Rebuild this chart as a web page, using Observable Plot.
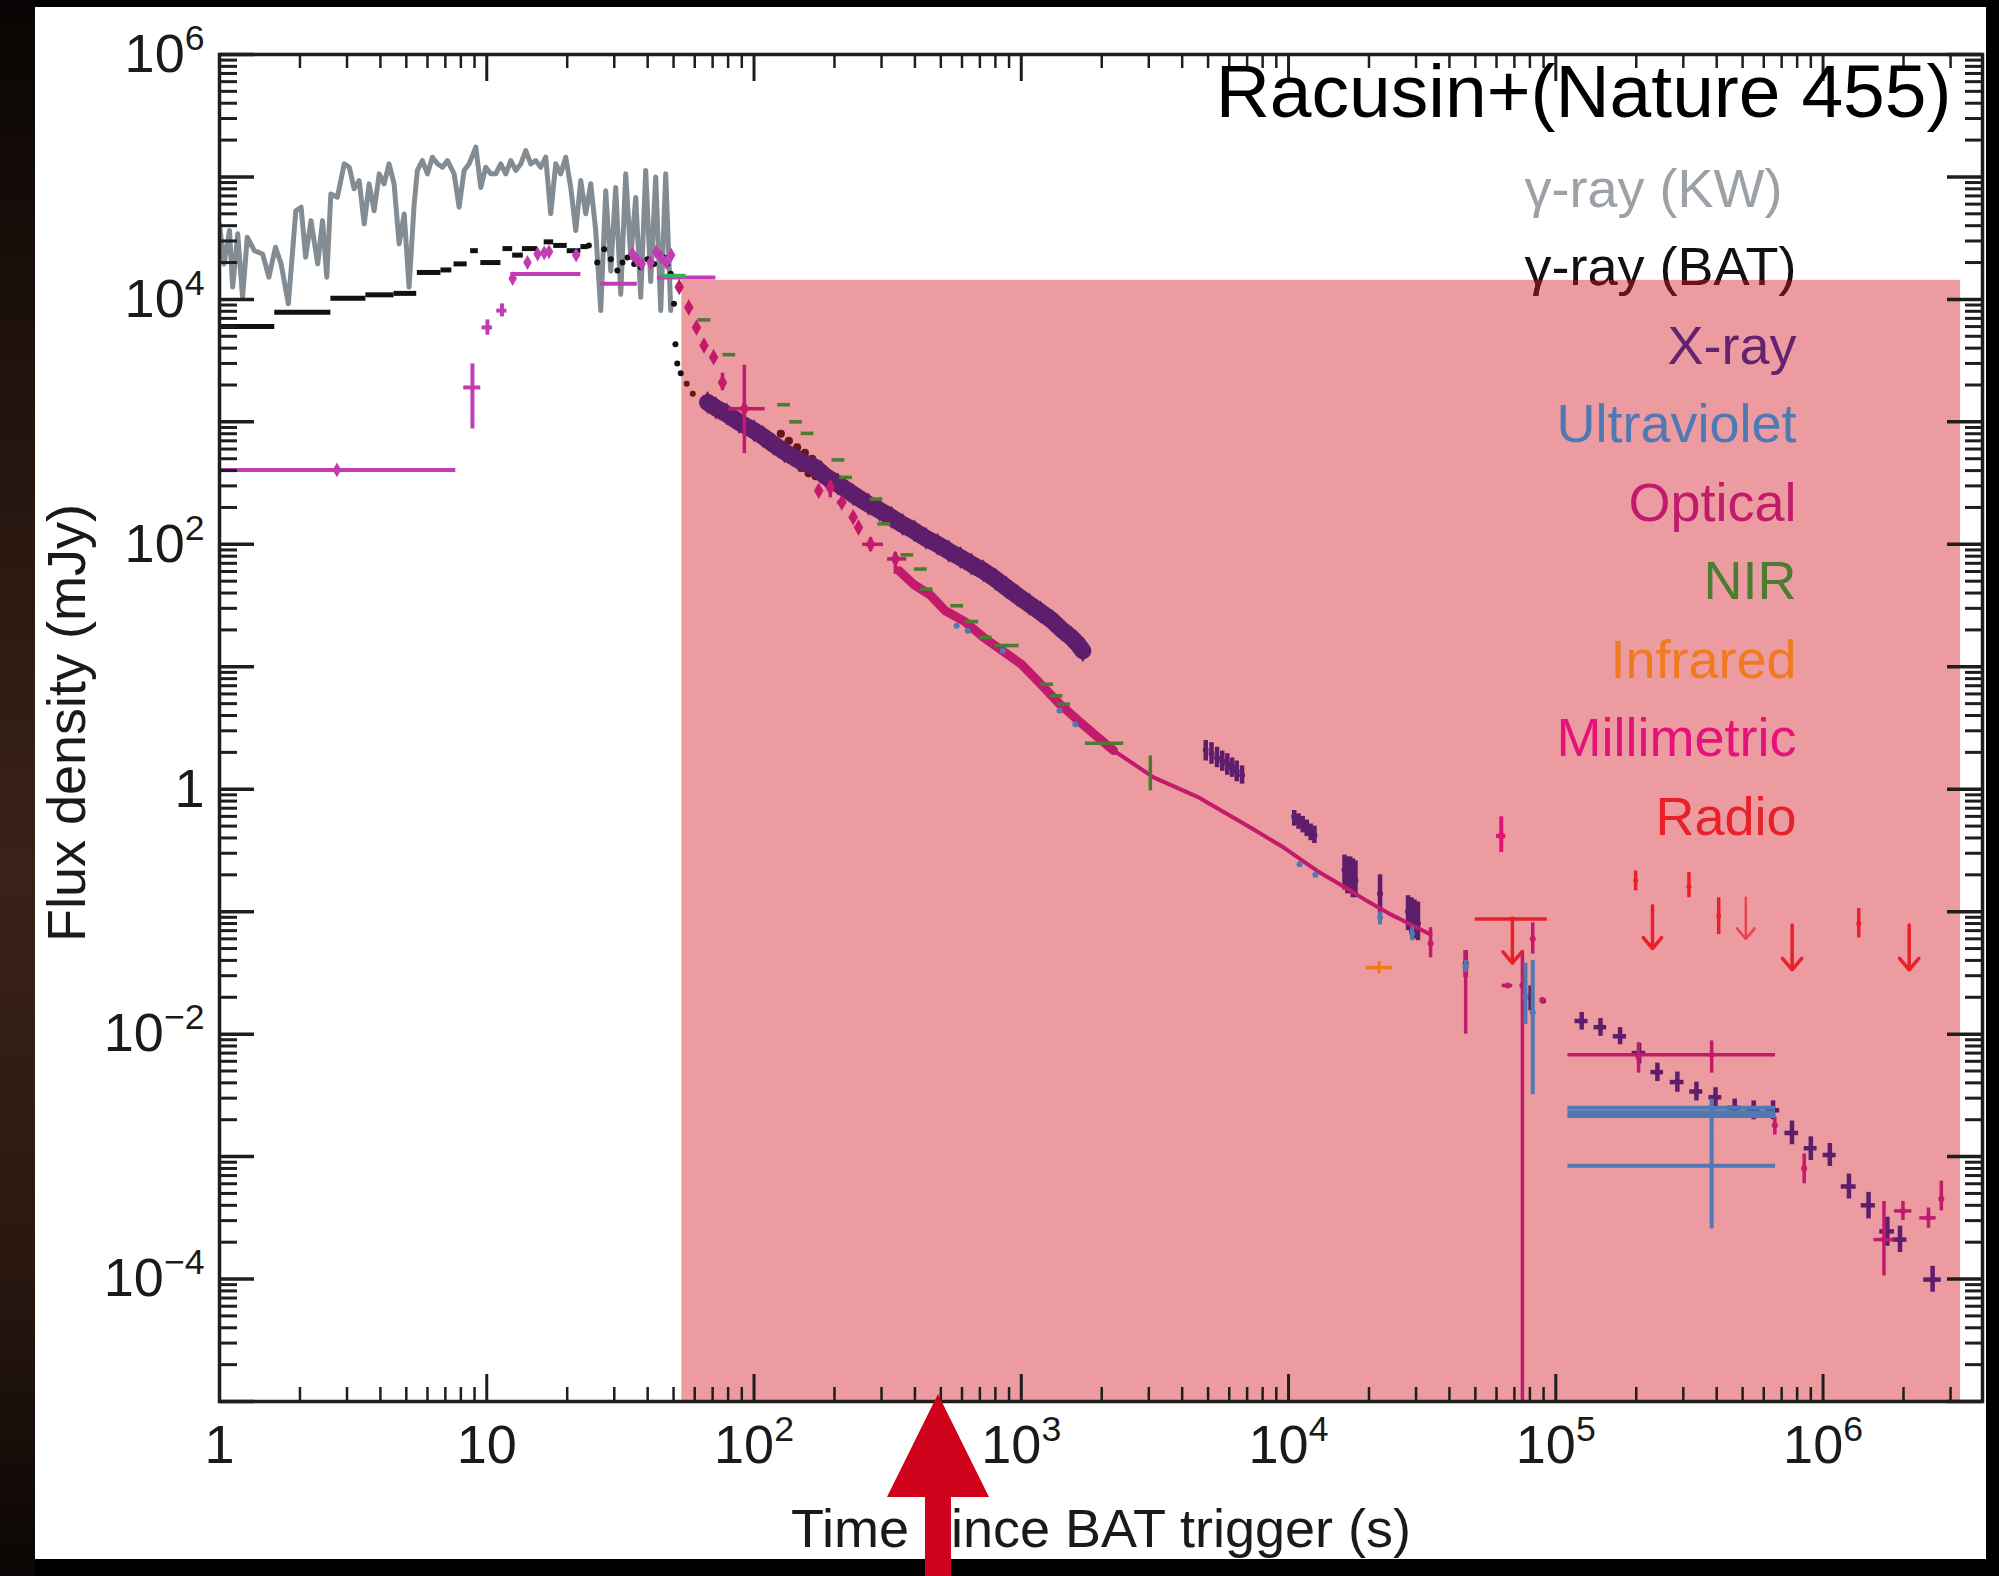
<!DOCTYPE html>
<html><head><meta charset="utf-8">
<script src="https://cdn.jsdelivr.net/npm/d3@7"></script>
<script src="https://cdn.jsdelivr.net/npm/@observablehq/plot@0.6"></script>
<style>
html,body{margin:0;padding:0;background:#000;overflow:hidden;}
#stage{position:relative;width:1999px;height:1576px;background:#000;overflow:hidden;}
#edge{position:absolute;left:0;top:0;width:35px;height:1576px;background:linear-gradient(180deg,#080504 0%,#22130d 25%,#3a2219 55%,#2a1810 80%,#0a0605 100%);}
#panel{position:absolute;left:35px;top:7px;width:1951px;height:1552px;background:#fff;}
#chart{position:absolute;left:0;top:0;}
#chart svg{display:block;}
#overlay{position:absolute;left:0;top:0;pointer-events:none;}
</style></head>
<body><div id="stage"><div id="edge"></div><div id="panel"></div><div id="chart"></div></div>
<script>
// ---------------- axes / labels ----------------
const xDomain = [1, 3.95e6];
const yDomain = [1e-5, 1e6];
const xMajorTicks = [1, 10, 100, 1e3, 1e4, 1e5, 1e6];
const xTickLabels = ["1", "10", "10^2", "10^3", "10^4", "10^5", "10^6"];
const yMajorTicks = [1e-5, 1e-4, 1e-3, 1e-2, 1e-1, 1, 10, 100, 1e3, 1e4, 1e5, 1e6];
const yLabelTicks = [1e6, 1e4, 1e2, 1, 1e-2, 1e-4];
const yTickLabels = ["10^6", "10^4", "10^2", "1", "10^\u22122", "10^\u22124"];
const xTitle = "Time since BAT trigger (s)";
const yTitle = "Flux density (mJy)";
const chartTitle = "Racusin+(Nature 455)";
const legendLabels = ["\u03b3-ray (KW)", "\u03b3-ray (BAT)", "X-ray", "Ultraviolet", "Optical", "NIR", "Infrared", "Millimetric", "Radio"];
const legendColors = ["#9BA1A7", "#111111", "#64236F", "#4E79B3", "#C21A6C", "#4C7B31", "#F07B1F", "#E5127A", "#E8202A"];

// shaded (highlighted) time range and the annotation arrow time
const shadeRegion = {t1: 53.7, t2: 3.27e6, f1: 1e-5, f2: 1.43e4};
const arrowTime = 490;

// ---------------- data (t in s, flux in mJy) ----------------
const kwCurve = [[1.00,4.1e4],[1.04,1.95e4],[1.09,3.65e4],[1.12,1.26e4],[1.17,3.43e4],[1.22,1.04e4],[1.27,3.22e4],[1.35,2.5e4],[1.45,2.35e4],[1.53,1.52e4],[1.62,2.67e4],[1.70,1.95e4],[1.81,9.2e3],[1.93,5.3e4],[2.02,5.66e4],[2.10,2.21e4],[2.20,4.4e4],[2.33,1.95e4],[2.43,4.4e4],[2.52,1.52e4],[2.61,7.27e4],[2.76,6.83e4],[2.93,1.28e5],[3.06,1.2e5],[3.19,8.0e4],[3.33,9.35e4],[3.48,4.14e4],[3.63,8.78e4],[3.79,5.3e4],[3.96,1.06e5],[4.13,8.78e4],[4.31,1.28e5],[4.50,8.78e4],[4.70,2.84e4],[4.91,4.99e4],[5.12,1.26e4],[5.35,6.0e4],[5.50,1.13e5],[5.74,1.36e5],[6.00,1.06e5],[6.26,1.45e5],[6.54,1.28e5],[6.83,1.2e5],[7.13,1.36e5],[7.55,1.06e5],[7.88,5.66e4],[8.23,1.13e5],[8.59,1.28e5],[9.10,1.75e5],[9.50,8.2e4],[9.91,1.2e5],[10.35,1.06e5],[10.81,1.06e5],[11.28,1.28e5],[11.78,1.06e5],[12.30,1.36e5],[12.84,1.13e5],[13.41,1.28e5],[13.99,1.64e5],[14.61,1.28e5],[15.25,1.36e5],[15.92,1.2e5],[16.62,1.45e5],[17.35,5.0e4],[18.12,1.28e5],[18.91,1.06e5],[19.75,1.45e5],[20.62,8.2e4],[21.53,3.65e4],[22.47,9.35e4],[23.46,5.0e4],[24.50,8.8e4],[25.57,3.65e4],[26.70,8.1e3],[27.87,7.7e4],[29.10,1.7e4],[30.38,8.2e4],[31.72,1.1e4],[33.11,1.06e5],[34.57,2.2e4],[36.09,6.8e4],[37.68,1.04e4],[39.33,1.13e5],[41.06,1.4e4],[42.87,1.0e5],[44.76,8.1e3],[46.73,1.06e5],[48.09,1.95e4],[48.80,8.1e3]];

const batSteps = [[0.9,1.61,6.0e3],[1.61,2.61,7.85e3],[2.61,3.53,1.02e4],[3.53,4.5,1.09e4],[4.5,5.47,1.12e4],[5.5,6.74,1.66e4],[6.74,7.4,1.74e4],[7.54,8.45,1.95e4],[8.7,9.3,2.5e4],[9.5,11.3,2.0e4],[11.5,12.5,2.6e4],[12.5,13.7,2.3e4],[13.6,15.5,2.6e4],[16.4,17.8,2.95e4],[17.8,20.0,2.76e4],[20.0,22.5,2.5e4],[22.5,24.0,2.7e4]];
const batDots = [[24.1,2.75e4],[25.9,2.0e4],[27.5,2.57e4],[29.1,2.13e4],[30.8,1.72e4],[32.2,2.0e4],[33.6,2.2e4],[35.6,1.95e4],[37.7,1.83e4],[39.9,2.13e4],[42.3,1.95e4],[44.1,2.35e4],[46.1,2.2e4],[47.4,1.95e4],[48.8,1.62e4],[50.2,9.2e3],[50.8,4.3e3],[51.6,3.0e3],[53.2,2.5e3],[56.0,2.05e3],[59.0,1.7e3],[126,800],[130,560],[135,700],[140,480],[145,620],[150,420],[155,560],[160,380],[165,500],[170,360],[175,450],[181,340]];

const optEarlyBars = [
  {t: 2.75, f: 405, tlo: 0.8, thi: 7.66},
  {t: 8.84, f: 1910, tlo: 8.2, thi: 9.5, flo: 875, fhi: 2970},
  {t: 10.06, f: 5900, tlo: 9.6, thi: 10.5, flo: 5100, fhi: 6800},
  {t: 11.4, f: 8100, tlo: 10.9, thi: 11.9, flo: 7200, fhi: 9200},
  {t: 15, f: 1.61e4, tlo: 12.3, thi: 22.5},
  {t: 31, f: 1.34e4, tlo: 26.7, thi: 36.6},
  {t: 56, f: 1.51e4, tlo: 43.5, thi: 72}
];
const optEarlyDots = [[2.75,405],[12.5,1.48e4],[14.2,2.0e4],[15.5,2.35e4],[16.4,2.4e4],[17.1,2.45e4],[21.6,2.3e4],[35.1,2.35e4],[36.5,2.1e4],[38,1.95e4],[41,2.0e4],[43,2.45e4],[45,2.2e4],[47,2.0e4],[49,2.3e4]];

const optSteep = [
  {t: 52.5, f: 1.26e4}, {t: 57, f: 8600}, {t: 60.9, f: 5900}, {t: 65, f: 4200}, {t: 70.6, f: 3370},
  {t: 76.2, f: 2100, flo: 1800, fhi: 2500},
  {t: 92, f: 1280, tlo: 80.6, thi: 110, flo: 550, fhi: 2900},
  {t: 174.6, f: 274}, {t: 193, f: 290, flo: 240, fhi: 331},
  {t: 213, f: 220, tlo: 205, thi: 222}, {t: 235, f: 166, tlo: 228, thi: 243}, {t: 246, f: 137},
  {t: 273, f: 100, tlo: 255, thi: 305, flo: 88, fhi: 113},
  {t: 338, f: 76, tlo: 316, thi: 373, flo: 57, fhi: 86}
];
const optTrackDense = [[349,60.8],[398,46.6],[457,38.5],[519,28.7],[613,23.5],[722,17.4],[851,13.5],[1000,10.5],[1190,7.1],[1393,4.95],[1640,3.62],[1940,2.64],[2215,2.07]];
const optTrackLate = [[2215,2.07],[3127,1.25],[4630,0.853],[7200,0.486],[9600,0.334],[12800,0.215],[17100,0.148],[19700,0.122],[24100,0.095],[27000,0.084],[34000,0.065]];
const optPoints = [
  {t: 3.4e4, f: 0.055, flo: 0.042, fhi: 0.074},
  {t: 4.6e4, f: 0.035, flo: 0.01, fhi: 0.048},
  {t: 6.6e4, f: 0.025, tlo: 6.3e4, thi: 6.9e4},
  {t: 7.5e4, f: 0.025, flo: 1e-6, fhi: 0.048},
  {t: 8.2e4, f: 0.06, flo: 0.045, fhi: 0.081},
  {t: 8.9e4, f: 0.019},
  {t: 3.83e5, f: 6.8e-3, tlo: 1.11e5, thi: 6.64e5, flo: 4.8e-3, fhi: 8.8e-3},
  {t: 2.04e5, f: 6.5e-3, flo: 4.8e-3, fhi: 8.5e-3},
  {t: 6.6e5, f: 1.8e-3, flo: 1.5e-3, fhi: 2.1e-3},
  {t: 8.5e5, f: 8.0e-4, flo: 6.0e-4, fhi: 1.05e-3},
  {t: 1.69e6, f: 2.1e-4, tlo: 1.55e6, thi: 1.85e6, flo: 1.06e-4, fhi: 4.3e-4},
  {t: 1.99e6, f: 3.6e-4, tlo: 1.85e6, thi: 2.15e6, flo: 3.0e-4, fhi: 4.3e-4},
  {t: 2.48e6, f: 3.16e-4, tlo: 2.3e6, thi: 2.65e6, flo: 2.6e-4, fhi: 3.8e-4},
  {t: 2.77e6, f: 4.5e-4, flo: 3.6e-4, fhi: 6.3e-4}
];

const uvPoints = [
  {t: 573, f: 21.6}, {t: 631, f: 19.7}, {t: 852, f: 13.5}, {t: 1390, f: 4.37}, {t: 1593, f: 3.4},
  {t: 1.1e4, f: 0.244}, {t: 1.26e4, f: 0.2},
  {t: 2.2e4, f: 0.09, flo: 0.078, fhi: 0.1}, {t: 2.9e4, f: 0.066, flo: 0.058, fhi: 0.075},
  {t: 4.6e4, f: 0.036, flo: 0.032, fhi: 0.04},
  {t: 7.7e4, f: 0.02, flo: 0.012, fhi: 0.038},
  {t: 8.2e4, f: 0.015, flo: 3.2e-3, fhi: 0.04},
  {t: 3.83e5, f: 2.5e-3, tlo: 1.11e5, thi: 6.64e5, flo: 1.5e-3, fhi: 2.95e-3},
  {t: 3.83e5, f: 2.3e-3, tlo: 1.11e5, thi: 6.64e5},
  {t: 3.83e5, f: 2.15e-3, tlo: 1.11e5, thi: 6.64e5},
  {t: 3.83e5, f: 8.4e-4, tlo: 1.11e5, thi: 6.64e5, flo: 2.57e-4, fhi: 1.5e-3}
];

const nirDashes = [[65,6800],[80.5,3540],[129,1380],[143,1000],[158,806],[206,489],[220,352],[286,234],[306,147],[373,82],[419,62.8],[440,43.1],[573,31.5],[653,23.4],[733,17.4],[837,14.9],[924,14.9],[1243,7.2],[1349,5.8],[1441,4.95]];
const nirBars = [{t: 2050, f: 2.37, tlo: 1735, thi: 2420}, {t: 3040, f: 1.35, flo: 0.97, fhi: 1.87}];
const nirEarly = [{t: 50, f: 1.56e4, tlo: 45.3, thi: 55.7}];

const irPoints = [{t: 2.18e4, f: 0.0349, tlo: 1.95e4, thi: 2.45e4, flo: 0.031, fhi: 0.039}];
const mmPoints = [{t: 6.25e4, f: 0.416, flo: 0.304, fhi: 0.595, tlo: 6.0e4, thi: 6.5e4}];
const radioPoints = [
  {t: 1.99e5, f: 0.18, flo: 0.148, fhi: 0.215}, {t: 3.15e5, f: 0.16, flo: 0.13, fhi: 0.209},
  {t: 4.07e5, f: 0.093, flo: 0.065, fhi: 0.13}, {t: 1.36e6, f: 0.08, flo: 0.061, fhi: 0.106},
  {t: 6.88e4, f: 0.087, tlo: 5.0e4, thi: 9.3e4}
];
const radioLimits = [
  {t: 6.88e4, top: 0.087, tip: 0.038}, {t: 2.3e5, top: 0.112, tip: 0.05},
  {t: 7.66e5, top: 0.078, tip: 0.0335}, {t: 2.1e6, top: 0.078, tip: 0.0335}
];
const radioLimitsFaint = [{t: 5.14e5, top: 0.13, tip: 0.06}];

const xrayBand = [[67,1440],[72,1300],[79,1160],[88,990],[100,847],[108,760],[118,659],[130,570],[148,482],[169,425],[185,360],[206,311],[235,255],[268,213],[295,190],[327,166],[360,145],[398,129],[440,112],[486,100],[535,88],[592,78],[650,69],[721,60.8],[800,52],[879,44.5],[970,38],[1071,32.5],[1180,28],[1306,23.8],[1420,20],[1539,17.4],[1620,15.5],[1700,13.5]];
const xrayPoints = [
  {t:4900,f:2.1,flo:1.7,fhi:2.5},{t:5150,f:1.95,flo:1.6,fhi:2.4},{t:5400,f:1.8,flo:1.5,fhi:2.2},{t:5650,f:1.7,flo:1.4,fhi:2.05},{t:5900,f:1.6,flo:1.3,fhi:1.95},{t:6150,f:1.5,flo:1.25,fhi:1.8},{t:6400,f:1.4,flo:1.15,fhi:1.7},{t:6700,f:1.3,flo:1.1,fhi:1.55},
  {t:10500,f:0.6,flo:0.5,fhi:0.67},{t:10900,f:0.55,flo:0.47,fhi:0.63},{t:11300,f:0.52,flo:0.44,fhi:0.6},{t:11700,f:0.48,flo:0.41,fhi:0.56},{t:12100,f:0.45,flo:0.38,fhi:0.52},{t:12500,f:0.42,flo:0.36,fhi:0.5},
  {t:16200,f:0.22,flo:0.15,fhi:0.29},{t:16600,f:0.21,flo:0.14,fhi:0.28},{t:17000,f:0.2,flo:0.14,fhi:0.28},{t:17400,f:0.19,flo:0.13,fhi:0.27},{t:17800,f:0.18,flo:0.13,fhi:0.26},
  {t:22000,f:0.14,flo:0.095,fhi:0.2},
  {t:28000,f:0.1,flo:0.07,fhi:0.135},{t:28800,f:0.095,flo:0.065,fhi:0.13},{t:29600,f:0.085,flo:0.06,fhi:0.125},{t:30500,f:0.08,flo:0.058,fhi:0.12},
  {t:46000,f:0.038,flo:0.029,fhi:0.048},
  {t:80500,f:0.02,flo:0.0155,fhi:0.0248},{t:89600,f:0.0187},
  {t:1.25e5,f:0.0128,tlo:1.18e5,thi:1.32e5,flo:0.0108,fhi:0.0150},
  {t:1.47e5,f:0.0114,tlo:1.39e5,thi:1.55e5,flo:0.0096,fhi:0.0134},
  {t:1.74e5,f:9.6e-3,tlo:1.64e5,thi:1.84e5,flo:8.2e-3,fhi:0.0113},
  {t:2.05e5,f:7.0e-3,tlo:1.93e5,thi:2.17e5,flo:5.7e-3,fhi:8.4e-3},
  {t:2.4e5,f:4.9e-3,tlo:2.27e5,thi:2.53e5,flo:4.1e-3,fhi:5.8e-3},
  {t:2.85e5,f:4.06e-3,tlo:2.68e5,thi:3.02e5,flo:3.35e-3,fhi:4.9e-3},
  {t:3.36e5,f:3.4e-3,tlo:3.17e5,thi:3.55e5,flo:2.85e-3,fhi:4.05e-3},
  {t:3.96e5,f:3.05e-3,tlo:3.74e5,thi:4.18e5,flo:2.55e-3,fhi:3.65e-3},
  {t:4.67e5,f:2.5e-3,tlo:4.4e5,thi:4.95e5,flo:2.1e-3,fhi:2.95e-3},
  {t:5.5e5,f:2.39e-3,tlo:5.18e5,thi:5.82e5,flo:2.0e-3,fhi:2.85e-3},
  {t:6.5e5,f:2.39e-3,tlo:6.12e5,thi:6.88e5,flo:2.0e-3,fhi:2.85e-3},
  {t:7.65e5,f:1.56e-3,tlo:7.2e5,thi:8.1e5,flo:1.25e-3,fhi:1.95e-3},
  {t:9.0e5,f:1.17e-3,tlo:8.5e5,thi:9.5e5,flo:9.3e-4,fhi:1.45e-3},
  {t:1.06e6,f:1.03e-3,tlo:1.0e6,thi:1.12e6,flo:8.3e-4,fhi:1.28e-3},
  {t:1.25e6,f:5.7e-4,tlo:1.17e6,thi:1.33e6,flo:4.5e-4,fhi:7.2e-4},
  {t:1.48e6,f:4.0e-4,tlo:1.39e6,thi:1.57e6,flo:3.1e-4,fhi:5.1e-4},
  {t:1.74e6,f:2.45e-4,tlo:1.63e6,thi:1.85e6,flo:1.85e-4,fhi:3.2e-4},
  {t:1.94e6,f:2.1e-4,tlo:1.82e6,thi:2.06e6,flo:1.65e-4,fhi:2.7e-4},
  {t:2.57e6,f:9.9e-5,tlo:2.38e6,thi:2.77e6,flo:7.8e-5,fhi:1.27e-4}
];

// ---------------- styles ----------------
const W = 1999, H = 1576;
const M = {left: 219, right: 17, top: 54, bottom: 175};
const plotW = W - M.left - M.right, plotH = H - M.top - M.bottom;
const FONT = "'Liberation Sans', Arial, Helvetica, sans-serif";
const PINK = "#EC9BA0", MAROON = "#6A1419", AXIS = "#1E1E1E";
const KW = "#848C93", BAT = "#111111", XRAY = "#5F1E6B", UV = "#4E79B3", OPT = "#C21A6C",
      OPT_EARLY = "#C23DB5", NIR = "#4C7B31", NIR_EARLY = "#2EB45C", IR = "#F07B1F", MM = "#E5127A", RADIO = "#E8202A";

const dash = {draw(ctx, size) { const w = Math.sqrt(size) * 0.9; ctx.moveTo(-w, -1.8); ctx.lineTo(w, -1.8); ctx.lineTo(w, 1.8); ctx.lineTo(-w, 1.8); ctx.closePath(); }};

function errorBars(data, color, sw = 3, r = 0, symbol = "circle") {
  return [
    Plot.ruleX(data.filter(d => d.flo != null), {x: "t", y1: "flo", y2: "fhi", stroke: color, strokeWidth: sw, clip: true}),
    Plot.ruleY(data.filter(d => d.tlo != null), {y: "f", x1: "tlo", x2: "thi", stroke: color, strokeWidth: sw, clip: true}),
    r ? Plot.dot(data.filter(d => d.f != null), {x: "t", y: "f", r, fill: color, symbol, clip: true}) : null
  ];
}
function minorTicks([lo, hi]) {
  const out = [];
  for (let e = Math.floor(Math.log10(lo)); e <= Math.ceil(Math.log10(hi)); e++)
    for (let m = 2; m <= 9; m++) { const v = m * Math.pow(10, e); if (v > lo && v < hi) out.push(v); }
  return out;
}
const xMinor = minorTicks(xDomain), yMinor = minorTicks(yDomain);
const xMajorAll = xMajorTicks.filter(v => v >= xDomain[0] && v <= xDomain[1]);

const legendMarks = legendLabels.map((label, i) => Plot.text([label], {
  frameAnchor: "top-right", dx: i === 0 ? -200 : -186, dy: 152 + i * 78.5, textAnchor: "end", lineAnchor: "bottom",
  fontSize: 54, fill: legendColors[i]
}));

const chart = Plot.plot({
  width: W, height: H,
  marginLeft: M.left, marginRight: M.right, marginTop: M.top, marginBottom: M.bottom,
  style: {fontFamily: FONT, background: "transparent", overflow: "visible"},
  x: {type: "log", domain: xDomain, axis: null},
  y: {type: "log", domain: yDomain, axis: null},
  marks: [
    Plot.rect([shadeRegion], {x1: "t1", x2: "t2", y1: "f1", y2: "f2", fill: PINK}),
    // gamma rays
    Plot.line(kwCurve, {x: d => d[0], y: d => d[1], stroke: KW, strokeWidth: 5, strokeLinejoin: "round", clip: true}),
    Plot.ruleY(batSteps, {x1: d => d[0], x2: d => d[1], y: d => d[2], stroke: BAT, strokeWidth: 5, clip: true}),
    Plot.dot(batDots, {x: d => d[0], y: d => d[1], r: d => d[0] > 100 ? 5.5 : 3, fill: d => d[0] > shadeRegion.t1 ? MAROON : BAT, clip: true}),
    // early optical
    ...errorBars(optEarlyBars, OPT_EARLY, 4),
    Plot.dot(optEarlyDots, {x: d => d[0], y: d => d[1], r: 4.5, symbol: "diamond", fill: OPT_EARLY, clip: true}),
    ...errorBars(nirEarly, NIR_EARLY, 4),
    // X-ray
    Plot.line(xrayBand, {x: d => d[0], y: d => d[1], stroke: XRAY, strokeWidth: 17, strokeLinejoin: "round", clip: true}),
    Plot.dot(xrayBand, {x: d => d[0], y: d => d[1], r: 7, fill: XRAY, symbol: "diamond", clip: true}),
    ...errorBars(xrayPoints, XRAY, 4.5, 3),
    // optical
    ...errorBars(optSteep, OPT, 3.5, 5, "diamond"),
    Plot.line(optTrackDense, {x: d => d[0], y: d => d[1], stroke: OPT, strokeWidth: 9, strokeLinejoin: "round", clip: true}),
    Plot.line(optTrackLate, {x: d => d[0], y: d => d[1], stroke: OPT, strokeWidth: 4, strokeLinejoin: "round", clip: true}),
    ...errorBars(optPoints, OPT, 3.5, 3),
    // NIR
    Plot.dot(nirDashes, {x: d => d[0], y: d => d[1], r: 4, symbol: dash, fill: NIR, clip: true}),
    ...errorBars(nirBars, NIR, 3.5),
    // UV
    ...errorBars(uvPoints, UV, 4, 3),
    // IR, mm, radio
    ...errorBars(irPoints, IR, 3.5),
    ...errorBars(mmPoints, MM, 4, 3.5),
    ...errorBars(radioPoints, RADIO, 3.5, 2.5),
    Plot.arrow(radioLimits, {x1: "t", x2: "t", y1: "top", y2: "tip", stroke: RADIO, strokeWidth: 3.5, headLength: 22, headAngle: 80, clip: true}),
    Plot.arrow(radioLimitsFaint, {x1: "t", x2: "t", y1: "top", y2: "tip", stroke: RADIO, strokeOpacity: 0.7, strokeWidth: 2.5, headLength: 20, headAngle: 80, clip: true}),
    // legend
    ...legendMarks,
    // ticks on all four sides (pointing inward)
    Plot.ruleY(yMajorTicks, {y: d => d, insetRight: plotW - 35, stroke: AXIS, strokeWidth: 3.5}),
    Plot.ruleY(yMinor, {y: d => d, insetRight: plotW - 18, stroke: AXIS, strokeWidth: 3}),
    Plot.ruleY(yMajorTicks, {y: d => d, insetLeft: plotW - 35, stroke: AXIS, strokeWidth: 3.5}),
    Plot.ruleY(yMinor, {y: d => d, insetLeft: plotW - 17, stroke: AXIS, strokeWidth: 3}),
    Plot.ruleX(xMajorAll, {x: d => d, insetTop: plotH - 27, stroke: AXIS, strokeWidth: 3}),
    Plot.ruleX(xMinor, {x: d => d, insetTop: plotH - 14, stroke: AXIS, strokeWidth: 2.5}),
    Plot.ruleX(xMajorAll, {x: d => d, insetBottom: plotH - 27, stroke: AXIS, strokeWidth: 3}),
    Plot.ruleX(xMinor, {x: d => d, insetBottom: plotH - 14, stroke: AXIS, strokeWidth: 2.5}),
    Plot.frame({stroke: AXIS, strokeWidth: 3.5}),
    // tick labels
    Plot.axisY(yLabelTicks, {anchor: "left", tickSize: 0, tickPadding: 15, fontSize: 54, fill: "#1a1a1a", label: null,
      tickFormat: d => yTickLabels[yLabelTicks.indexOf(d)]}),
    Plot.axisX(xMajorTicks, {anchor: "bottom", tickSize: 0, tickPadding: 23, fontSize: 54, fill: "#1a1a1a", label: null,
      tickFormat: d => xTickLabels[xMajorTicks.indexOf(d)]}),
    // axis titles
    Plot.text([xTitle], {frameAnchor: "bottom", dy: 145, lineAnchor: "bottom", textAnchor: "middle", fontSize: 54, fill: "#1a1a1a"}),
    Plot.text([yTitle], {frameAnchor: "left", dx: -152, dy: -5, rotate: -90, lineAnchor: "middle", textAnchor: "middle", fontSize: 54, fill: "#1a1a1a"}),
    // title
    Plot.text([chartTitle], {frameAnchor: "top-right", dx: -31, dy: 9, lineAnchor: "top", textAnchor: "end", fontSize: 75, fill: "#000"})
  ]
});
document.getElementById("chart").appendChild(chart);

const ns = "http://www.w3.org/2000/svg";
// superscripts for "10^n" tick labels
chart.querySelectorAll("text").forEach(t => {
  const m = /^10\^(.+)$/.exec(t.textContent);
  if (m) {
    t.textContent = "10";
    const ts = document.createElementNS(ns, "tspan");
    ts.setAttribute("dy", "-0.62em");
    ts.setAttribute("font-size", "0.66em");
    ts.textContent = m[1];
    t.appendChild(ts);
  }
});

const sx = (chart.scale("x") && chart.scale("x").apply) ? (v => chart.scale("x").apply(v)) : d3.scaleLog().domain(xDomain).range([M.left, W - M.right]);
const sy = (chart.scale("y") && chart.scale("y").apply) ? (v => chart.scale("y").apply(v)) : d3.scaleLog().domain(yDomain).range([H - M.bottom, M.top]);

// part of the BAT legend label that lies inside the shaded region is darkened
const batText = [...chart.querySelectorAll("text")].find(t => t.textContent === legendLabels[1]);
if (batText) {
  let g = batText.parentNode;
  while (g.parentNode && g.parentNode !== chart) g = g.parentNode;
  const defs = document.createElementNS(ns, "defs");
  const cp = document.createElementNS(ns, "clipPath");
  cp.setAttribute("id", "shadeClip");
  const r = document.createElementNS(ns, "rect");
  const x1 = sx(shadeRegion.t1), x2 = sx(shadeRegion.t2), y1 = sy(shadeRegion.f2), y2 = sy(shadeRegion.f1);
  r.setAttribute("x", x1); r.setAttribute("y", y1); r.setAttribute("width", x2 - x1); r.setAttribute("height", y2 - y1);
  cp.appendChild(r); defs.appendChild(cp); chart.insertBefore(defs, chart.firstChild);
  const clone = g.cloneNode(true);
  clone.setAttribute("fill", MAROON);
  clone.querySelectorAll("text").forEach(t => t.setAttribute("fill", MAROON));
  const wrap = document.createElementNS(ns, "g");
  wrap.setAttribute("clip-path", "url(#shadeClip)");
  wrap.appendChild(clone);
  g.parentNode.insertBefore(wrap, g.nextSibling);
}

// red annotation arrow below the time axis
const ax = sx(arrowTime);
const ov = document.createElementNS(ns, "svg");
ov.setAttribute("id", "overlay"); ov.setAttribute("width", W); ov.setAttribute("height", H);
const frameBottom = H - M.bottom;
const head = document.createElementNS(ns, "polygon");
head.setAttribute("points", `${ax - 51},${frameBottom + 96} ${ax + 51},${frameBottom + 96} ${ax},${frameBottom - 7}`);
head.setAttribute("fill", "#D0021B");
const shaft = document.createElementNS(ns, "rect");
shaft.setAttribute("x", ax - 13); shaft.setAttribute("y", frameBottom + 94);
shaft.setAttribute("width", 26); shaft.setAttribute("height", H - frameBottom);
shaft.setAttribute("fill", "#D0021B");
ov.appendChild(head); ov.appendChild(shaft);
document.getElementById("stage").appendChild(ov);
</script>
</body></html>
